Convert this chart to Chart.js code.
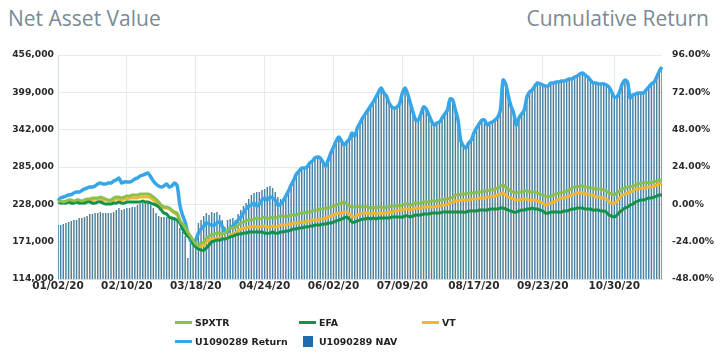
<!DOCTYPE html>
<html>
<head>
<meta charset="utf-8">
<script src="https://cdn.jsdelivr.net/npm/chart.js@4"></script>
<style>
  body { margin: 0; background: #fff; }
  #wrap { position: relative; width: 720px; height: 352px; overflow: hidden; }
  #myChart { position: absolute; left: 0; top: 0; }
  .title { position: absolute; top: 4px; line-height: 28px; font-family: 'Open Sans'; font-size: 21px; color: #7b8a94; }
  .legend-item { position: absolute; display: flex; align-items: center; height: 14px; font: bold 9.4px 'DejaVu Sans'; color: #222; white-space: nowrap; }
  .swatch { width: 17px; height: 14px; display: flex; align-items: center; justify-content: center; margin-right: 3px; }
</style>
</head>
<body>
<div id="wrap">
  <div class="title" style="left:8px">Net Asset Value</div>
  <div class="title" style="right:11px">Cumulative Return</div>
  <canvas id="myChart" width="720" height="352"></canvas>
  <div id="legend"></div>
</div>
<script>
// trading days per month, 2020
const tradingDays = [
    [2,3,6,7,8,9,10,13,14,15,16,17,21,22,23,24,27,28,29,30,31],
    [3,4,5,6,7,10,11,12,13,14,18,19,20,21,24,25,26,27,28],
    [2,3,4,5,6,9,10,11,12,13,16,17,18,19,20,23,24,25,26,27,30,31],
    [1,2,3,6,7,8,9,13,14,15,16,17,20,21,22,23,24,27,28,29,30],
    [1,4,5,6,7,8,11,12,13,14,15,18,19,20,21,22,26,27,28,29],
    [1,2,3,4,5,8,9,10,11,12,15,16,17,18,19,22,23,24,25,26,29,30],
    [1,2,6,7,8,9,10,13,14,15,16,17,20,21,22,23,24,27,28,29,30,31],
    [3,4,5,6,7,10,11,12,13,14,17,18,19,20,21,24,25,26,27,28,31],
    [1,2,3,4,8,9,10,11,14,15,16,17,18,21,22,23,24,25,28,29,30],
    [1,2,5,6,7,8,9,12,13,14,15,16,19,20,21,22,23,26,27,28,29,30],
    [2,3,4,5,6,9,10,11,12,13,16,17,18,19,20,23,24,25]
];

const tickLabels = ['01/02/20', '02/10/20', '03/18/20', '04/24/20', '06/02/20',
    '07/09/20', '08/17/20', '09/23/20', '10/30/20'];

// cumulative return, %
const spxtr = [
    1.5,2.1,1.5,2.1,2.8,2.8,2.1,2.8,2.8,2.1,
    2.8,3.4,3.4,4.1,4.1,4.1,4.7,4.1,3.4,2.8,
    2.8,4.1,4.7,4.7,4.1,4.7,5.3,5.3,6.0,6.0,
    6.0,6.6,6.6,6.6,6.6,6.0,4.7,3.4,1.5,-0.5,
    -1.7,-1.7,-2.4,-3.7,-5.0,-5.6,-10.1,-12.7,-14.6,-17.8,
    -20.4,-23.0,-25.5,-26.2,-24.9,-24.2,-21.7,-20.4,-19.7,-19.1,
    -18.5,-18.5,-19.1,-18.5,-16.5,-15.2,-15.2,-14.6,-13.3,-12.0,
    -11.4,-10.7,-10.1,-10.1,-9.5,-8.8,-9.5,-8.8,-8.2,-8.8,
    -8.8,-8.2,-8.8,-8.2,-7.5,-7.5,-8.2,-7.5,-6.9,-6.9,
    -6.9,-6.2,-5.6,-5.6,-5.0,-5.0,-4.3,-3.7,-3.7,-3.0,
    -3.0,-2.4,-2.4,-1.7,-1.1,-0.5,0.2,0.8,1.5,0.2,
    -1.1,-1.7,-1.7,-1.1,-1.7,-1.7,-1.1,-1.7,-2.4,-1.7,
    -2.4,-1.7,-1.7,-2.4,-1.7,-1.7,-1.1,-1.1,-0.5,-1.1,
    -0.5,0.2,0.2,-0.5,0.2,0.8,0.8,0.8,1.5,1.5,
    1.5,2.1,2.1,2.1,2.8,2.8,3.4,3.4,4.1,4.7,
    6.0,6.0,6.6,6.6,6.6,7.3,7.3,7.3,7.9,7.9,
    7.9,8.6,8.6,9.2,9.2,9.8,10.5,11.8,12.4,11.1,
    9.8,8.6,7.9,7.3,7.9,7.9,8.6,8.6,7.9,7.9,
    7.9,7.3,6.6,6.0,5.3,4.7,5.3,6.0,6.6,7.3,
    7.3,7.9,8.6,9.2,10.5,11.1,11.1,11.8,11.8,11.1,
    11.1,10.5,10.5,9.8,9.8,9.8,9.2,8.6,7.3,6.6,
    6.0,7.3,8.6,9.8,10.5,11.1,11.1,11.8,12.4,13.1,
    13.7,13.7,14.3,13.7,14.3,14.3,15.0,15.6,15.6
];

const efa = [
    1.5,0.8,0.8,0.8,1.5,0.8,0.8,1.5,0.8,0.8,
    0.8,1.5,1.5,0.8,0.8,1.5,1.5,0.8,0.2,0.2,
    0.2,0.8,0.8,1.5,0.8,0.8,1.5,1.5,1.5,1.5,
    1.5,1.5,2.1,1.5,1.5,0.8,0.2,-0.5,-1.7,-3.7,
    -5.6,-6.2,-8.2,-8.8,-9.5,-10.1,-12.0,-15.9,-18.5,-20.4,
    -21.7,-24.9,-27.5,-28.7,-29.4,-29.4,-28.1,-26.2,-24.2,-23.6,
    -23.0,-23.0,-22.3,-22.3,-21.7,-21.0,-20.4,-19.7,-19.1,-19.1,
    -18.5,-18.5,-17.8,-17.8,-17.8,-17.8,-17.8,-17.8,-18.5,-18.5,
    -18.5,-17.8,-18.5,-18.5,-17.8,-17.8,-17.2,-17.2,-16.5,-15.9,
    -15.9,-15.2,-15.2,-14.6,-14.6,-14.0,-14.0,-13.3,-13.3,-13.3,
    -12.7,-12.7,-12.0,-12.0,-11.4,-10.7,-10.1,-9.5,-8.8,-8.2,
    -9.5,-11.4,-11.4,-10.7,-10.1,-9.5,-9.5,-8.8,-9.5,-8.8,
    -9.5,-8.8,-8.8,-8.8,-8.8,-8.8,-8.2,-8.2,-8.2,-8.2,
    -8.2,-7.5,-7.5,-8.2,-7.5,-6.9,-6.9,-6.9,-6.2,-6.2,
    -6.2,-5.6,-5.6,-5.6,-5.6,-5.0,-5.0,-5.0,-5.0,-5.0,
    -5.0,-5.0,-5.0,-5.0,-5.0,-4.3,-4.3,-4.3,-4.3,-3.7,
    -3.7,-3.7,-3.7,-3.0,-3.0,-3.0,-3.0,-2.4,-2.4,-3.0,
    -3.7,-4.3,-5.0,-5.0,-4.3,-3.7,-3.7,-3.0,-3.0,-2.4,
    -3.0,-3.0,-3.7,-4.3,-5.6,-5.6,-5.0,-5.0,-5.0,-5.0,
    -5.0,-4.3,-4.3,-3.7,-3.0,-3.0,-2.4,-2.4,-2.4,-3.0,
    -3.0,-3.0,-3.7,-3.7,-3.7,-4.3,-4.3,-5.0,-6.9,-7.5,
    -8.2,-6.9,-5.0,-3.7,-2.4,-1.7,-0.5,0.2,1.5,2.1,
    2.8,2.8,3.4,4.1,4.1,4.7,5.3,6.0,6.0
];

const vt = [
    1.5,1.5,1.5,1.5,2.1,2.1,1.5,2.1,2.1,1.5,
    2.1,2.8,2.8,2.8,3.4,3.4,3.4,2.8,2.8,2.1,
    2.1,2.8,3.4,3.4,2.8,3.4,3.4,4.1,4.1,4.1,
    4.1,4.7,4.7,4.7,4.7,4.1,2.8,1.5,-0.5,-1.7,
    -2.4,-2.4,-3.0,-4.3,-5.6,-6.9,-10.7,-13.3,-15.9,-19.1,
    -21.7,-24.2,-26.8,-27.5,-26.8,-26.2,-24.2,-23.0,-22.3,-22.3,
    -21.7,-21.7,-22.3,-21.7,-21.7,-19.7,-19.1,-18.5,-17.2,-15.9,
    -15.2,-15.2,-14.6,-14.6,-14.0,-14.6,-14.6,-14.0,-14.0,-14.6,
    -14.6,-14.0,-14.6,-14.0,-13.3,-13.3,-13.3,-12.7,-12.7,-12.0,
    -12.0,-12.0,-11.4,-11.4,-10.7,-10.7,-10.1,-10.1,-10.1,-9.5,
    -9.5,-8.8,-8.2,-7.5,-6.9,-6.2,-5.6,-5.6,-5.0,-5.0,
    -6.2,-7.5,-8.2,-6.9,-6.2,-5.6,-5.6,-5.6,-6.2,-5.6,
    -6.2,-5.6,-5.6,-5.6,-5.6,-5.0,-5.0,-4.3,-4.3,-3.7,
    -3.7,-3.0,-3.0,-3.7,-3.0,-2.4,-2.4,-2.4,-1.7,-1.7,
    -1.7,-1.7,-1.7,-1.1,-1.1,-0.5,-0.5,0.2,0.8,1.5,
    2.1,2.1,2.8,2.8,2.8,2.8,3.4,3.4,3.4,4.1,
    4.1,4.1,4.7,4.7,5.3,5.3,6.0,6.6,7.3,6.0,
    4.7,4.1,3.4,2.8,2.8,3.4,3.4,3.4,2.8,2.8,
    2.8,2.1,1.5,0.8,-0.5,0.2,0.8,1.5,2.1,3.4,
    4.1,4.1,4.7,5.3,6.0,6.6,7.3,7.3,7.3,6.6,
    6.6,6.0,6.0,4.7,4.7,4.1,4.1,3.4,1.5,0.8,
    0.8,2.1,4.1,6.0,6.6,7.3,7.9,8.6,9.8,9.8,
    10.5,10.5,11.1,11.1,11.1,11.8,12.4,13.1,13.7
];

const acctReturn = [
    2.1,4.1,4.7,5.3,6.0,6.3,7.3,7.9,7.9,8.9,
    9.8,10.5,11.1,11.1,11.8,13.1,13.7,13.1,13.1,13.7,
    13.7,15.0,15.6,16.9,13.7,14.4,14.4,14.4,15.0,16.3,
    16.9,18.2,18.8,19.5,20.1,17.6,15.0,13.1,11.8,11.1,
    11.8,13.1,11.1,11.8,13.7,11.8,-0.5,-6.9,-11.4,-18.5,
    -23.0,-25.5,-23.0,-18.5,-15.9,-14.0,-12.0,-12.7,-13.3,-13.3,
    -12.0,-11.4,-14.0,-17.2,-17.8,-15.2,-14.0,-12.0,-10.1,-8.2,
    -5.6,-3.0,-1.1,-0.5,0.8,-1.1,0.2,2.8,4.1,2.8,
    4.7,4.1,2.8,-0.5,0.2,2.1,5.3,8.6,12.4,15.6,
    19.5,21.4,23.3,23.3,24.0,26.6,27.8,29.8,30.4,29.8,
    27.2,24.6,28.5,33.0,36.8,40.7,43.3,40.7,38.1,40.1,
    42.0,45.9,43.9,49.1,52.3,55.5,58.1,60.6,63.2,65.8,
    69.0,72.2,74.8,71.6,69.6,65.1,62.6,61.9,62.6,65.1,
    71.6,74.8,70.9,65.1,59.3,54.2,54.2,58.1,62.6,61.3,
    57.4,53.5,51.0,52.3,52.9,55.5,58.1,60.6,67.7,67.1,
    60.6,54.2,41.3,37.5,36.2,39.4,41.3,45.9,49.1,51.6,
    54.2,54.2,51.0,52.3,52.9,54.2,56.1,60.6,79.9,77.4,
    69.6,63.2,58.7,51.0,55.5,58.1,60.6,69.0,72.2,73.5,
    76.1,78.0,77.4,76.7,76.1,76.1,78.0,78.0,78.6,78.6,
    79.3,79.3,79.9,80.6,80.6,81.8,82.5,83.8,84.4,83.1,
    81.8,79.9,78.0,78.0,77.4,77.4,77.4,76.7,75.4,72.2,
    69.0,69.0,72.2,77.4,79.9,78.6,68.3,70.3,70.9,71.6,
    71.6,71.6,73.5,75.4,77.4,78.6,81.8,85.7,88.3
];

// net asset value
const nav = [
    196400,196400,198000,199500,201000,202600,204100,204100,207100,207100,
    208700,210200,213200,213200,214800,214800,216300,214800,214800,214800,
    214800,216300,219300,222400,219300,220900,222400,222400,223900,223900,
    227000,228500,230000,230000,230000,227000,222400,214800,210200,208700,
    208700,208700,208700,208700,208700,204100,191900,185800,179700,146100,
    179700,170500,176600,199500,204100,210200,214800,211700,216300,214800,
    216300,211700,204100,193400,204100,205600,207100,204100,213200,219300,
    225500,230000,236100,242300,245300,246800,246800,249900,251400,254500,
    256000,252900,246800,239200,236100,237700,239200,246800,256000,263600,
    272800,277400,281900,281900,283500,289600,292600,297200,298700,297200,
    291100,285000,294200,304900,314000,323200,329300,323200,317100,321600,
    326200,335400,330800,343000,350700,358300,364400,370500,376600,382700,
    390400,398000,404100,396500,391900,381200,375100,373600,375100,381200,
    396500,404100,394900,381200,367400,355200,355200,364400,375100,372000,
    362900,353700,347600,350700,352200,358300,364400,370500,387300,385800,
    370500,355200,324700,315500,312500,320100,324700,335400,343000,349100,
    355200,355200,347600,350700,352200,355200,359800,370500,416300,410200,
    391900,376600,365900,347600,358300,364400,370500,390400,398000,401000,
    407100,411700,410200,408700,407100,407100,411700,411700,413300,413300,
    414800,414800,416300,417800,417800,420900,422400,425500,427000,423900,
    420900,416300,411700,411700,410200,410200,410200,408700,405600,398000,
    390400,390400,398000,410200,416300,413300,388800,393400,394900,396500,
    396500,396500,401000,405600,410200,413300,420900,430000,436200
];

const pad2 = n => String(n).padStart(2, '0');
const dates = [];
tradingDays.forEach((days, m) => {
    days.forEach(d => dates.push(pad2(m + 1) + '/' + pad2(d) + '/20'));
});

const tickFont = { family: 'DejaVu Sans', size: 9.2, weight: 'bold' };
const gridColor = '#e2ebf0';

function lineSet(label, data, color, width) {
    return {
        label: label,
        data: data,
        yAxisID: 'yRet',
        borderColor: color,
        backgroundColor: color,
        borderWidth: width,
        pointRadius: 0,
        tension: 0.3,
        fill: false
    };
}

const ctx = document.getElementById('myChart').getContext('2d');

const myChart = new Chart(ctx, {
    type: 'line',
    data: {
        labels: dates,
        datasets: [
            lineSet('SPXTR', spxtr, '#8cc04c', 3),
            lineSet('EFA', efa, '#14924a', 3),
            lineSet('VT', vt, '#f3b631', 3),
            lineSet('U1090289 Return', acctReturn, '#36a6e8', 3.5),
            {
                type: 'bar',
                label: 'U1090289 NAV',
                data: nav,
                yAxisID: 'yNav',
                backgroundColor: '#4b819e',
                borderColor: '#1f6bb0', // used for the legend swatch only
                borderWidth: 0,
                barPercentage: 1,
                categoryPercentage: 0.55
            }
        ]
    },
    options: {
        responsive: false,
        animation: false,
        layout: { padding: { top: 55, bottom: 53, left: 0, right: 0 } },
        plugins: {
            legend: { display: false },
            tooltip: { enabled: false }
        },
        scales: {
            x: {
                offset: false,
                grid: { color: gridColor, drawTicks: false, offset: false },
                border: { color: '#d3dfe6' },
                ticks: {
                    autoSkip: false,
                    maxRotation: 0,
                    padding: 1,
                    color: '#2a2a2a',
                    font: { family: 'DejaVu Sans', size: 10.5, weight: 'bold' }
                },
                afterBuildTicks: scale => {
                    scale.ticks = scale.ticks.filter(t => tickLabels.includes(dates[t.value]));
                },
                afterFit: scale => { scale.height = 20; }
            },
            yNav: {
                position: 'left',
                min: 114000,
                max: 456000,
                grid: { color: gridColor, drawTicks: false },
                border: { color: '#d3dfe6' },
                ticks: {
                    stepSize: 57000,
                    padding: 4,
                    color: '#2a2a2a',
                    font: tickFont,
                    callback: v => v.toLocaleString('en-US')
                },
                afterFit: scale => { scale.width = 58; }
            },
            yRet: {
                position: 'right',
                min: -48,
                max: 96,
                grid: { drawOnChartArea: false, drawTicks: false },
                border: { display: false },
                ticks: {
                    stepSize: 24,
                    padding: 10,
                    color: '#2a2a2a',
                    font: tickFont,
                    callback: v => v.toFixed(2) + '%'
                },
                afterFit: scale => { scale.width = 58; }
            }
        }
    }
});

// legend laid out as a 3-column grid under the chart
const legendCols = [175, 299, 422];
const legendRows = [315, 334];
const legendBox = document.getElementById('legend');
myChart.data.datasets.forEach((ds, i) => {
    const item = document.createElement('div');
    item.className = 'legend-item';
    item.style.left = legendCols[i % 3] + 'px';
    item.style.top = legendRows[Math.floor(i / 3)] + 'px';
    const sw = document.createElement('span');
    sw.className = 'swatch';
    const mark = document.createElement('span');
    if (ds.type === 'bar') {
        mark.style.cssText = 'width:10px;height:11px;background:' + ds.borderColor;
    } else {
        mark.style.cssText = 'width:17px;height:3px;background:' + ds.borderColor;
    }
    sw.appendChild(mark);
    item.appendChild(sw);
    item.appendChild(document.createTextNode(ds.label));
    legendBox.appendChild(item);
});
</script>
</body>
</html>
